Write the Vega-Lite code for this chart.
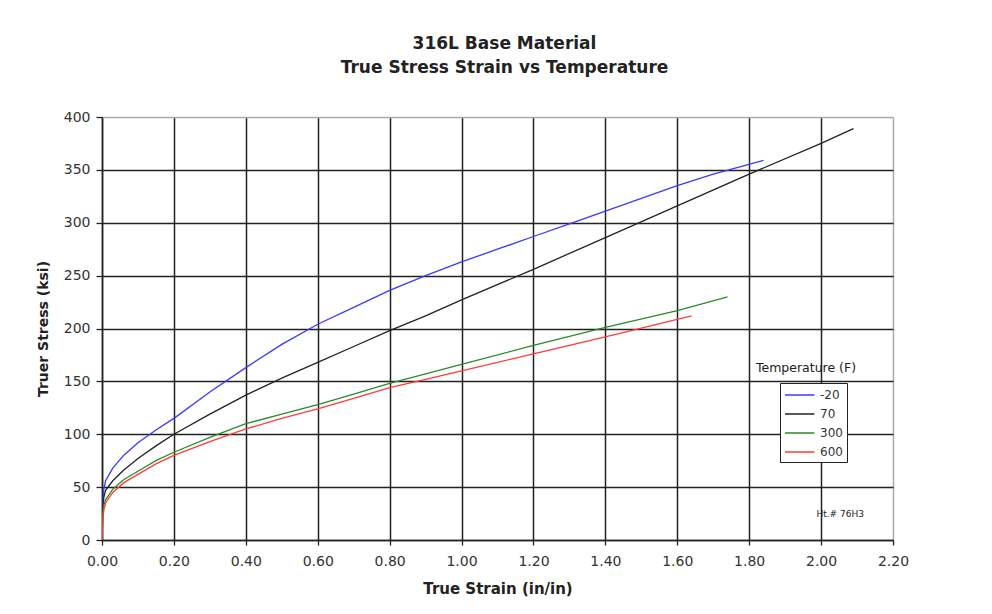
{
  "$schema": "https://vega.github.io/schema/vega-lite/v6.json",
  "autosize": "none",
  "width": 791,
  "height": 423,
  "padding": {"left": 102, "top": 117, "right": 99, "bottom": 74},
  "background": "white",
  "config": {
    "font": "DejaVu Sans",
    "view": {"stroke": null},
    "axis": {"labelFont": "DejaVu Sans", "titleFont": "DejaVu Sans"},
    "legend": {"labelFont": "DejaVu Sans"},
    "title": {"font": "DejaVu Sans"}
  },
  "title": {
    "text": ["316L Base Material", "True Stress Strain vs Temperature"],
    "fontSize": 17,
    "fontWeight": "bold",
    "color": "#222",
    "lineHeight": 24,
    "offset": 33,
    "dx": 7,
    "anchor": "middle"
  },
  "datasets": {
    "curves": [
      {"temp": "-20", "strain": 0, "stress": 0},
      {"temp": "-20", "strain": 0.002, "stress": 35},
      {"temp": "-20", "strain": 0.005, "stress": 48},
      {"temp": "-20", "strain": 0.01, "stress": 56},
      {"temp": "-20", "strain": 0.03, "stress": 68},
      {"temp": "-20", "strain": 0.06, "stress": 80},
      {"temp": "-20", "strain": 0.1, "stress": 92},
      {"temp": "-20", "strain": 0.15, "stress": 104},
      {"temp": "-20", "strain": 0.2, "stress": 115},
      {"temp": "-20", "strain": 0.3, "stress": 140},
      {"temp": "-20", "strain": 0.4, "stress": 163},
      {"temp": "-20", "strain": 0.5, "stress": 185},
      {"temp": "-20", "strain": 0.6, "stress": 204},
      {"temp": "-20", "strain": 0.7, "stress": 220},
      {"temp": "-20", "strain": 0.8, "stress": 236},
      {"temp": "-20", "strain": 0.9, "stress": 250},
      {"temp": "-20", "strain": 1.0, "stress": 263},
      {"temp": "-20", "strain": 1.1, "stress": 275},
      {"temp": "-20", "strain": 1.2, "stress": 287},
      {"temp": "-20", "strain": 1.3, "stress": 299},
      {"temp": "-20", "strain": 1.4, "stress": 311},
      {"temp": "-20", "strain": 1.5, "stress": 323},
      {"temp": "-20", "strain": 1.6, "stress": 335},
      {"temp": "-20", "strain": 1.7, "stress": 346},
      {"temp": "-20", "strain": 1.84, "stress": 359},
      {"temp": "70", "strain": 0, "stress": 0},
      {"temp": "70", "strain": 0.002, "stress": 30},
      {"temp": "70", "strain": 0.005, "stress": 40},
      {"temp": "70", "strain": 0.01, "stress": 47},
      {"temp": "70", "strain": 0.03, "stress": 56},
      {"temp": "70", "strain": 0.06, "stress": 66},
      {"temp": "70", "strain": 0.1, "stress": 77},
      {"temp": "70", "strain": 0.15, "stress": 89},
      {"temp": "70", "strain": 0.2, "stress": 100},
      {"temp": "70", "strain": 0.3, "stress": 119},
      {"temp": "70", "strain": 0.4, "stress": 137},
      {"temp": "70", "strain": 0.5, "stress": 153},
      {"temp": "70", "strain": 0.6, "stress": 168},
      {"temp": "70", "strain": 0.7, "stress": 183},
      {"temp": "70", "strain": 0.8, "stress": 198},
      {"temp": "70", "strain": 0.9, "stress": 212},
      {"temp": "70", "strain": 1.0, "stress": 227},
      {"temp": "70", "strain": 1.2, "stress": 256},
      {"temp": "70", "strain": 1.4, "stress": 286},
      {"temp": "70", "strain": 1.6, "stress": 316},
      {"temp": "70", "strain": 1.8, "stress": 346},
      {"temp": "70", "strain": 2.0, "stress": 375},
      {"temp": "70", "strain": 2.09, "stress": 389},
      {"temp": "300", "strain": 0, "stress": 0},
      {"temp": "300", "strain": 0.002, "stress": 25},
      {"temp": "300", "strain": 0.005, "stress": 33},
      {"temp": "300", "strain": 0.01, "stress": 38},
      {"temp": "300", "strain": 0.03, "stress": 48},
      {"temp": "300", "strain": 0.06, "stress": 57},
      {"temp": "300", "strain": 0.1, "stress": 65},
      {"temp": "300", "strain": 0.15, "stress": 75},
      {"temp": "300", "strain": 0.2, "stress": 83},
      {"temp": "300", "strain": 0.3, "stress": 97},
      {"temp": "300", "strain": 0.4, "stress": 110},
      {"temp": "300", "strain": 0.5, "stress": 119},
      {"temp": "300", "strain": 0.6, "stress": 128},
      {"temp": "300", "strain": 0.7, "stress": 138},
      {"temp": "300", "strain": 0.8, "stress": 148},
      {"temp": "300", "strain": 0.9, "stress": 157},
      {"temp": "300", "strain": 1.0, "stress": 166},
      {"temp": "300", "strain": 1.2, "stress": 184},
      {"temp": "300", "strain": 1.4, "stress": 201},
      {"temp": "300", "strain": 1.6, "stress": 217},
      {"temp": "300", "strain": 1.74, "stress": 230},
      {"temp": "600", "strain": 0, "stress": 0},
      {"temp": "600", "strain": 0.003, "stress": 22},
      {"temp": "600", "strain": 0.006, "stress": 30},
      {"temp": "600", "strain": 0.01, "stress": 35},
      {"temp": "600", "strain": 0.03, "stress": 45},
      {"temp": "600", "strain": 0.06, "stress": 54},
      {"temp": "600", "strain": 0.1, "stress": 62},
      {"temp": "600", "strain": 0.15, "stress": 72},
      {"temp": "600", "strain": 0.2, "stress": 80},
      {"temp": "600", "strain": 0.3, "stress": 93},
      {"temp": "600", "strain": 0.4, "stress": 105},
      {"temp": "600", "strain": 0.5, "stress": 115},
      {"temp": "600", "strain": 0.6, "stress": 124},
      {"temp": "600", "strain": 0.7, "stress": 134},
      {"temp": "600", "strain": 0.8, "stress": 144},
      {"temp": "600", "strain": 0.9, "stress": 152},
      {"temp": "600", "strain": 1.0, "stress": 160},
      {"temp": "600", "strain": 1.2, "stress": 176},
      {"temp": "600", "strain": 1.4, "stress": 192},
      {"temp": "600", "strain": 1.64, "stress": 212}
    ],
    "notes": [
      {"label": "Temperature (F)", "strain": 1.958, "stress": 162.5, "kind": "title"},
      {"label": "Ht.# 76H3", "strain": 2.053, "stress": 25, "kind": "note"}
    ]
  },
  "layer": [
    {
      "data": {"name": "curves"},
      "mark": {"type": "line", "strokeWidth": 1.3, "clip": true},
      "encoding": {
        "x": {
          "field": "strain",
          "type": "quantitative",
          "scale": {"domain": [0, 2.2], "nice": false, "zero": true},
          "axis": {
            "title": "True Strain (in/in)",
            "titleFontSize": 15,
            "titleFontWeight": "bold",
            "titleColor": "#222",
            "titlePadding": 13,
            "values": [0, 0.2, 0.4, 0.6, 0.8, 1.0, 1.2, 1.4, 1.6, 1.8, 2.0, 2.2],
            "format": ".2f",
            "labelFontSize": 14,
            "labelColor": "#333",
            "labelPadding": 9,
            "labelFlush": false,
            "tickColor": "#222",
            "tickSize": 5,
            "tickWidth": 1.3,
            "domainColor": "#222",
            "domainWidth": 1.5,
            "grid": true,
            "gridColor": {"condition": {"test": "datum.value >= 2.19", "value": "#aaaaaa"}, "value": "#222222"},
            "gridWidth": 1.5
          }
        },
        "y": {
          "field": "stress",
          "type": "quantitative",
          "scale": {"domain": [0, 400], "nice": false},
          "axis": {
            "title": "Truer Stress (ksi)",
            "titleFontSize": 14,
            "titleFontWeight": "bold",
            "titleColor": "#222",
            "titlePadding": 13,
            "values": [0, 50, 100, 150, 200, 250, 300, 350, 400],
            "labelFontSize": 14,
            "labelColor": "#333",
            "labelPadding": 6,
            "labelFlush": false,
            "tickColor": "#222",
            "tickSize": 6,
            "tickWidth": 1.3,
            "domainColor": "#222",
            "domainWidth": 1.5,
            "grid": true,
            "gridColor": {"condition": {"test": "datum.value >= 399", "value": "#aaaaaa"}, "value": "#222222"},
            "gridWidth": 1.5
          }
        },
        "color": {
          "field": "temp",
          "type": "nominal",
          "sort": ["-20", "70", "300", "600"],
          "scale": {"domain": ["-20", "70", "300", "600"], "range": ["#3a3aff", "#222222", "#2a8a2a", "#ff3b3b"]},
          "legend": {
            "title": null,
            "orient": "none",
            "legendX": 678,
            "legendY": 266,
            "strokeColor": "#222",
            "fillColor": "white",
            "padding": 4,
            "symbolType": "M-1,0H3.2",
            "symbolSize": 196,
            "symbolStrokeWidth": 1.5,
            "rowPadding": 5,
            "labelFontSize": 12,
            "labelColor": "#333",
            "labelOffset": 20
          }
        },
        "detail": {"field": "temp"}
      }
    },
    {
      "data": {"name": "notes"},
      "mark": {"type": "text", "align": "center", "baseline": "middle", "color": "#222"},
      "encoding": {
        "x": {"field": "strain", "type": "quantitative"},
        "y": {"field": "stress", "type": "quantitative"},
        "text": {"field": "label"},
        "size": {"field": "kind", "type": "nominal", "scale": {"domain": ["title", "note"], "range": [12.5, 9]}, "legend": null}
      }
    }
  ]
}
